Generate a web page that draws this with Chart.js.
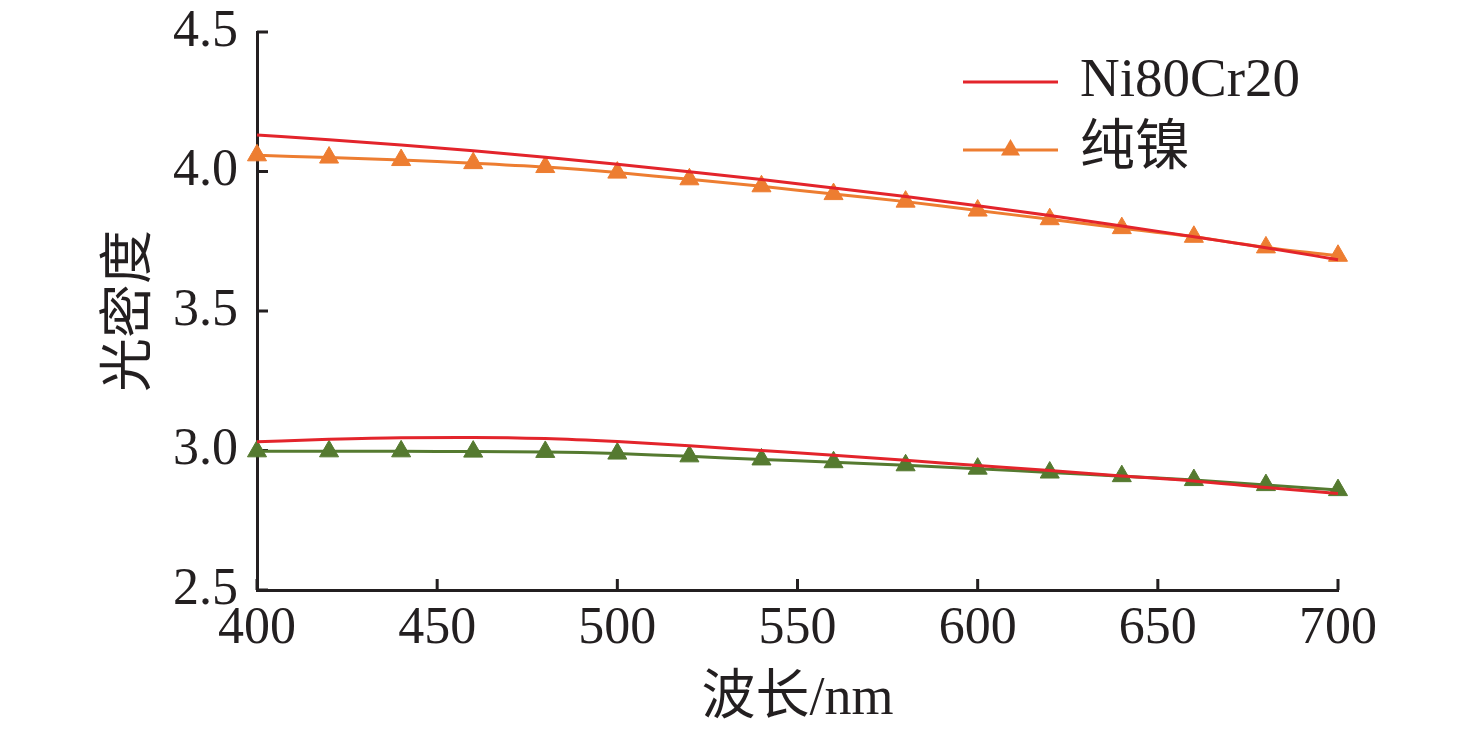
<!DOCTYPE html>
<html>
<head>
<meta charset="utf-8">
<script src="https://cdn.jsdelivr.net/npm/chart.js@4/dist/chart.umd.min.js"></script>
<style>
  html, body { margin: 0; padding: 0; background: #ffffff; }
  #wrap { width: 1476px; height: 734px; }
</style>
</head>
<body>
<div id="wrap"><canvas id="c" width="1476" height="734"></canvas></div>
<script>
// ---- data ----
const wavelengths = [400, 420, 440, 460, 480, 500, 520, 540, 560, 580, 600, 620, 640, 660, 680, 700];
const niCrUpper = [4.131, 4.114, 4.095, 4.074, 4.051, 4.026, 3.999, 3.971, 3.941, 3.910, 3.877, 3.842, 3.805, 3.766, 3.727, 3.684];
const pureNiUpper = [4.058, 4.050, 4.041, 4.030, 4.016, 3.996, 3.972, 3.947, 3.919, 3.892, 3.860, 3.829, 3.797, 3.766, 3.728, 3.698];
const niCrLower = [3.031, 3.040, 3.046, 3.047, 3.043, 3.032, 3.017, 3.000, 2.983, 2.965, 2.946, 2.928, 2.909, 2.891, 2.867, 2.846];
const pureNiLower = [2.997, 2.997, 2.997, 2.996, 2.995, 2.989, 2.979, 2.968, 2.958, 2.947, 2.935, 2.921, 2.908, 2.894, 2.876, 2.858];
const xTicks = [400, 450, 500, 550, 600, 650, 700];
const yTicks = [2.5, 3.0, 3.5, 4.0, 4.5];
const seriesNames = ['Ni80Cr20', '纯镍'];
const xTitle = '波长/nm';
const yTitle = '光密度';

const RED = '#E3242B';
const ORANGE = '#ED7D31';
const GREEN = '#557A30';
const AXIS = '#231F20';
const FONT = '"Liberation Serif", "Times New Roman", "Noto Sans CJK SC", serif';

const toPts = (ys) => wavelengths.map((x, i) => ({ x: x, y: ys[i] }));

function lineDs(label, ys, color, legend) {
  return {
    label: label, data: toPts(ys), borderColor: color, backgroundColor: color,
    borderWidth: 3, pointRadius: 0, pointHoverRadius: 0,
    cubicInterpolationMode: 'monotone', clip: false, showInLegend: legend
  };
}
function markDs(label, ys, color, legend) {
  return {
    label: label, data: toPts(ys), borderColor: color, backgroundColor: color,
    borderWidth: 3, pointStyle: 'triangle', pointRadius: 11, pointHoverRadius: 11,
    pointBorderWidth: 1, pointBorderColor: color, tension: 0.3, clip: false, showInLegend: legend
  };
}

const insideTicks = {
  id: 'insideTicks',
  beforeDatasetsDraw(chart) {
    const ctx = chart.ctx;
    const xs = chart.scales.x, ys = chart.scales.y;
    const ca = chart.chartArea;
    ctx.save();
    ctx.strokeStyle = AXIS;
    ctx.lineWidth = 3;
    ctx.beginPath();
    xTicks.forEach(v => {
      const px = xs.getPixelForValue(v);
      ctx.moveTo(px, ca.bottom);
      ctx.lineTo(px, ca.bottom - 11);
    });
    yTicks.forEach(v => {
      const py = ys.getPixelForValue(v);
      ctx.moveTo(ca.left, py);
      ctx.lineTo(ca.left + 11, py);
    });
    ctx.stroke();
    ctx.restore();
  }
};

const customLegend = {
  id: 'customLegend',
  afterDraw(chart) {
    const ctx = chart.ctx;
    const ca = chart.chartArea;
    const items = chart.data.datasets.filter(d => d.showInLegend);
    const x0 = ca.right - 375, x1 = ca.right - 280, tx = ca.right - 258;
    let y = ca.top + 50;
    ctx.save();
    items.forEach(d => {
      ctx.strokeStyle = d.borderColor;
      ctx.lineWidth = 3;
      ctx.beginPath();
      ctx.moveTo(x0, y);
      ctx.lineTo(x1, y);
      ctx.stroke();
      if (d.pointStyle === 'triangle') {
        const cx = (x0 + x1) / 2, r = 11;
        ctx.fillStyle = d.borderColor;
        ctx.beginPath();
        ctx.moveTo(cx, y - r);
        ctx.lineTo(cx + r * 0.866, y + r * 0.5);
        ctx.lineTo(cx - r * 0.866, y + r * 0.5);
        ctx.closePath();
        ctx.fill();
      }
      ctx.fillStyle = '#231F20';
      ctx.font = '55px ' + FONT;
      ctx.textAlign = 'left';
      ctx.textBaseline = 'middle';
      ctx.fillText(d.label, tx, y);
      y += 68;
    });
    ctx.restore();
  }
};

new Chart(document.getElementById('c'), {
  type: 'line',
  data: {
    datasets: [
      lineDs(seriesNames[0], niCrUpper, RED, true),
      markDs(seriesNames[1], pureNiUpper, ORANGE, true),
      lineDs(seriesNames[0], niCrLower, RED, false),
      markDs(seriesNames[1], pureNiLower, GREEN, false)
    ]
  },
  options: {
    responsive: false,
    animation: false,
    devicePixelRatio: 1,
    layout: { padding: { left: 0, right: 138, top: 32, bottom: 0 } },
    plugins: { legend: { display: false }, tooltip: { enabled: false } },
    scales: {
      x: {
        type: 'linear', min: 400, max: 700,
        afterBuildTicks: (s) => { s.ticks = xTicks.map(v => ({ value: v })); },
        afterFit: (s) => { s.height = 144; s.paddingLeft = 0; s.paddingRight = 0; },
        grid: { display: true, drawOnChartArea: false, drawTicks: false },
        border: { display: true, color: AXIS, width: 3 },
        ticks: { color: '#231F20', font: { family: FONT, size: 52 }, padding: 8, maxRotation: 0 },
        title: { display: true, text: xTitle, color: '#231F20', font: { family: FONT, size: 54 }, padding: { top: 2, bottom: 2 } }
      },
      y: {
        type: 'linear', min: 2.5, max: 4.5,
        afterBuildTicks: (s) => { s.ticks = yTicks.map(v => ({ value: v })); },
        afterFit: (s) => { s.width = 257; s.paddingTop = 0; s.paddingBottom = 0; },
        grid: { display: true, drawOnChartArea: false, drawTicks: false },
        border: { display: true, color: AXIS, width: 3 },
        ticks: { color: '#231F20', font: { family: FONT, size: 52 }, padding: 19, callback: (v) => Number(v).toFixed(1) },
        title: { display: true, text: yTitle, color: '#231F20', font: { family: FONT, size: 54 }, padding: { top: 99, bottom: 0 } }
      }
    }
  },
  plugins: [insideTicks, customLegend]
});
</script>
</body>
</html>
